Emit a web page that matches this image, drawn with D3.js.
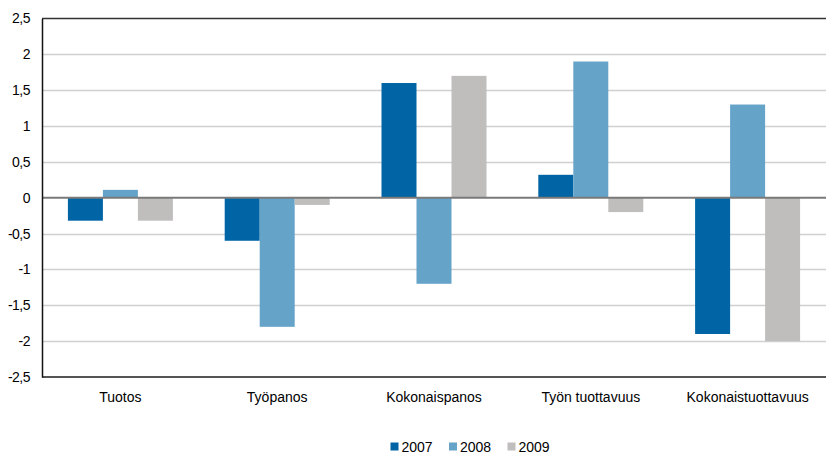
<!DOCTYPE html>
<html><head><meta charset="utf-8">
<script src="https://cdn.jsdelivr.net/npm/d3@7"></script>
<style>body{margin:0;background:#fff}svg{display:block}text{font-family:"Liberation Sans",Arial,sans-serif;fill:#000}</style>
</head><body><svg id="c" width="826" height="455"></svg>
<script>
const categories = ["Tuotos","Työpanos","Kokonaispanos","Työn tuottavuus","Kokonaistuottavuus"];
const seriesNames = ["2007","2008","2009"];
const values2007 = [-0.32,-0.6,1.6,0.32,-1.9];
const values2008 = [0.11,-1.8,-1.2,1.9,1.3];
const values2009 = [-0.32,-0.1,1.7,-0.2,-2.0];
const colors = ["#0064A5","#65A3C8","#BFBEBD"];
const yTicks = [-2.5,-2,-1.5,-1,-0.5,0,0.5,1,1.5,2,2.5];

const series = [values2007, values2008, values2009];
const svg = d3.select("#c");
const m = {l:42, r:0, t:18.5, b:78};
const W = 826, H = 455;
const FS = "14px";
const x = d3.scaleBand().domain(categories).range([m.l, W-m.r]).paddingInner(0).paddingOuter(0);
const xi = d3.scaleBand().domain(seriesNames).range([0, x.bandwidth()]).paddingInner(0).paddingOuter(0.74);
const y = d3.scaleLinear().domain([-2.5,2.5]).range([H-m.b, m.t]);
const fmt = v => String(v).replace(".", ",");

// gridlines
svg.append("g").selectAll("line").data(yTicks.filter(t=>t!==0 && Math.abs(t)!==2.5)).join("line")
  .attr("x1", m.l).attr("x2", W).attr("y1", d=>Math.round(y(d))+0.5).attr("y2", d=>Math.round(y(d))+0.5)
  .attr("stroke", "#d0d0d0").attr("stroke-width", 1.5);

// bars
const g = svg.append("g");
categories.forEach((c, i) => {
  series.forEach((s, j) => {
    const v = s[i];
    g.append("rect")
      .attr("x", x(c) + xi(seriesNames[j]))
      .attr("width", xi.bandwidth())
      .attr("y", y(Math.max(0, v)))
      .attr("height", Math.abs(y(v) - y(0)))
      .attr("fill", colors[j]);
  });
});

// zero line
svg.append("line").attr("x1", m.l).attr("x2", W).attr("y1", y(0)).attr("y2", y(0))
  .attr("stroke", "#7a7a7a").attr("stroke-width", 2);
// top & bottom lines
svg.append("line").attr("x1", m.l).attr("x2", W).attr("y1", y(2.5)).attr("y2", y(2.5))
  .attr("stroke", "#333").attr("stroke-width", 1.5);
svg.append("line").attr("x1", m.l).attr("x2", W).attr("y1", y(-2.5)).attr("y2", y(-2.5))
  .attr("stroke", "#555").attr("stroke-width", 2);

// y axis
const yAxis = d3.axisLeft(y).tickValues(yTicks).tickSize(0).tickPadding(12).tickFormat(fmt);
const ya = svg.append("g").attr("transform", `translate(${m.l},0)`).call(yAxis);
ya.select(".domain").attr("stroke", "#111").attr("stroke-width", 1.5);
ya.selectAll("text").style("font-family", '"Liberation Sans",Arial,sans-serif').style("font-size", FS).attr("fill", "#000").attr("letter-spacing", "-0.5px");

// x axis labels
const xAxis = d3.axisBottom(x).tickSize(0).tickPadding(15);
const xa = svg.append("g").attr("transform", `translate(0,${y(-2.5)})`).call(xAxis);
xa.select(".domain").remove();
xa.selectAll("text").style("font-family", '"Liberation Sans",Arial,sans-serif').style("font-size", FS).attr("fill", "#000");

// legend
const legend = svg.append("g").attr("transform", "translate(390.5,442.5)");
const lx = [0, 58.5, 117];
seriesNames.forEach((n, j) => {
  const it = legend.append("g").attr("transform", `translate(${lx[j]},0)`);
  it.append("rect").attr("x", 0).attr("y", 0).attr("width", 8).attr("height", 8).attr("fill", colors[j]);
  it.append("text").attr("x", 11).attr("y", 9).style("font-size", FS).text(n);
});
</script></body></html>
